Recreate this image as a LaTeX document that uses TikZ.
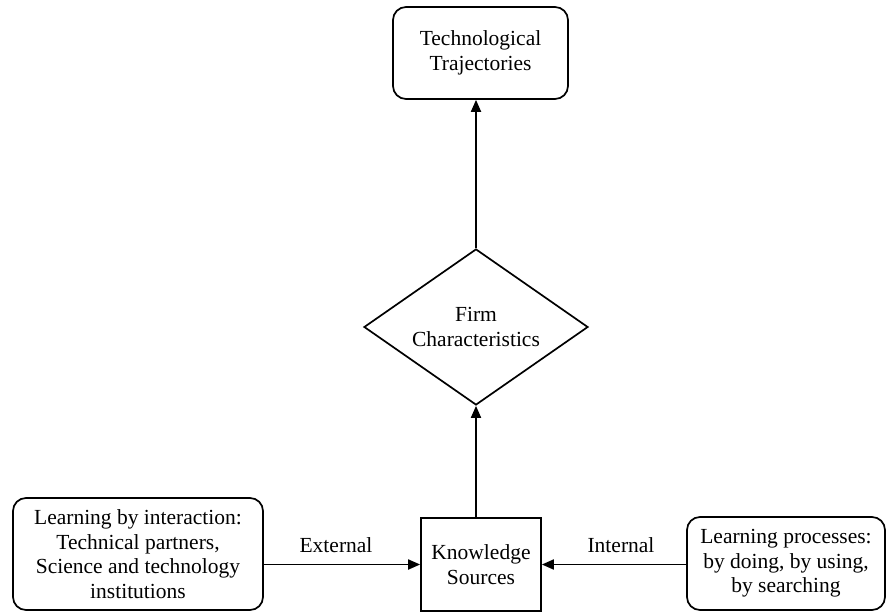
\documentclass[tikz,border=0pt]{standalone}
\usepackage{fontspec}
\setmainfont{Liberation Serif}
\usetikzlibrary{shapes.geometric,arrows.meta}
\begin{document}
\begin{tikzpicture}[x=1pt,y=-1pt,
  every node/.style={font=\fontsize{21.5}{24.5}\selectfont, align=center, inner sep=0pt},
  rbox/.style={draw, line width=1.7pt, rounded corners=13pt},
  sbox/.style={draw, line width=1.7pt},
  conn/.style={line width=1.8pt, -{Triangle[length=12pt,width=10pt]}},
  lbl/.style={anchor=base}]
\useasboundingbox (0,0) rectangle (888,613);
\node[rbox, minimum width=175pt, minimum height=92pt] (tt) at (480.5,53) {Technological\\Trajectories};
\node[draw, diamond, aspect=1.436, line width=1.7pt, minimum width=224pt, minimum height=156pt] (fc) at (476,327) {Firm\\Characteristics};
\node[sbox, minimum width=120pt, minimum height=93pt] (ks) at (481,564.5) {Knowledge\\Sources};
\node[rbox, minimum width=250pt, minimum height=112pt] (lb) at (138,554) {Learning by interaction:\\Technical partners,\\Science and technology\\institutions};
\node[rbox, minimum width=198pt, minimum height=93pt] (rb) at (786,563.5) {Learning processes:\\by doing, by using,\\by searching};
\draw[conn] (fc.south |- ks.north) -- (fc.south);
\draw[conn] (fc.north) -- (fc.north |- tt.south);
\draw[conn] (lb.east |- ks.west) -- (ks.west);
\draw[conn] (rb.west |- ks.east) -- (ks.east);
\node[lbl] (ext) at (336,552) {External};
\node[lbl] (int) at (621,552) {Internal};
\end{tikzpicture}
\end{document}
